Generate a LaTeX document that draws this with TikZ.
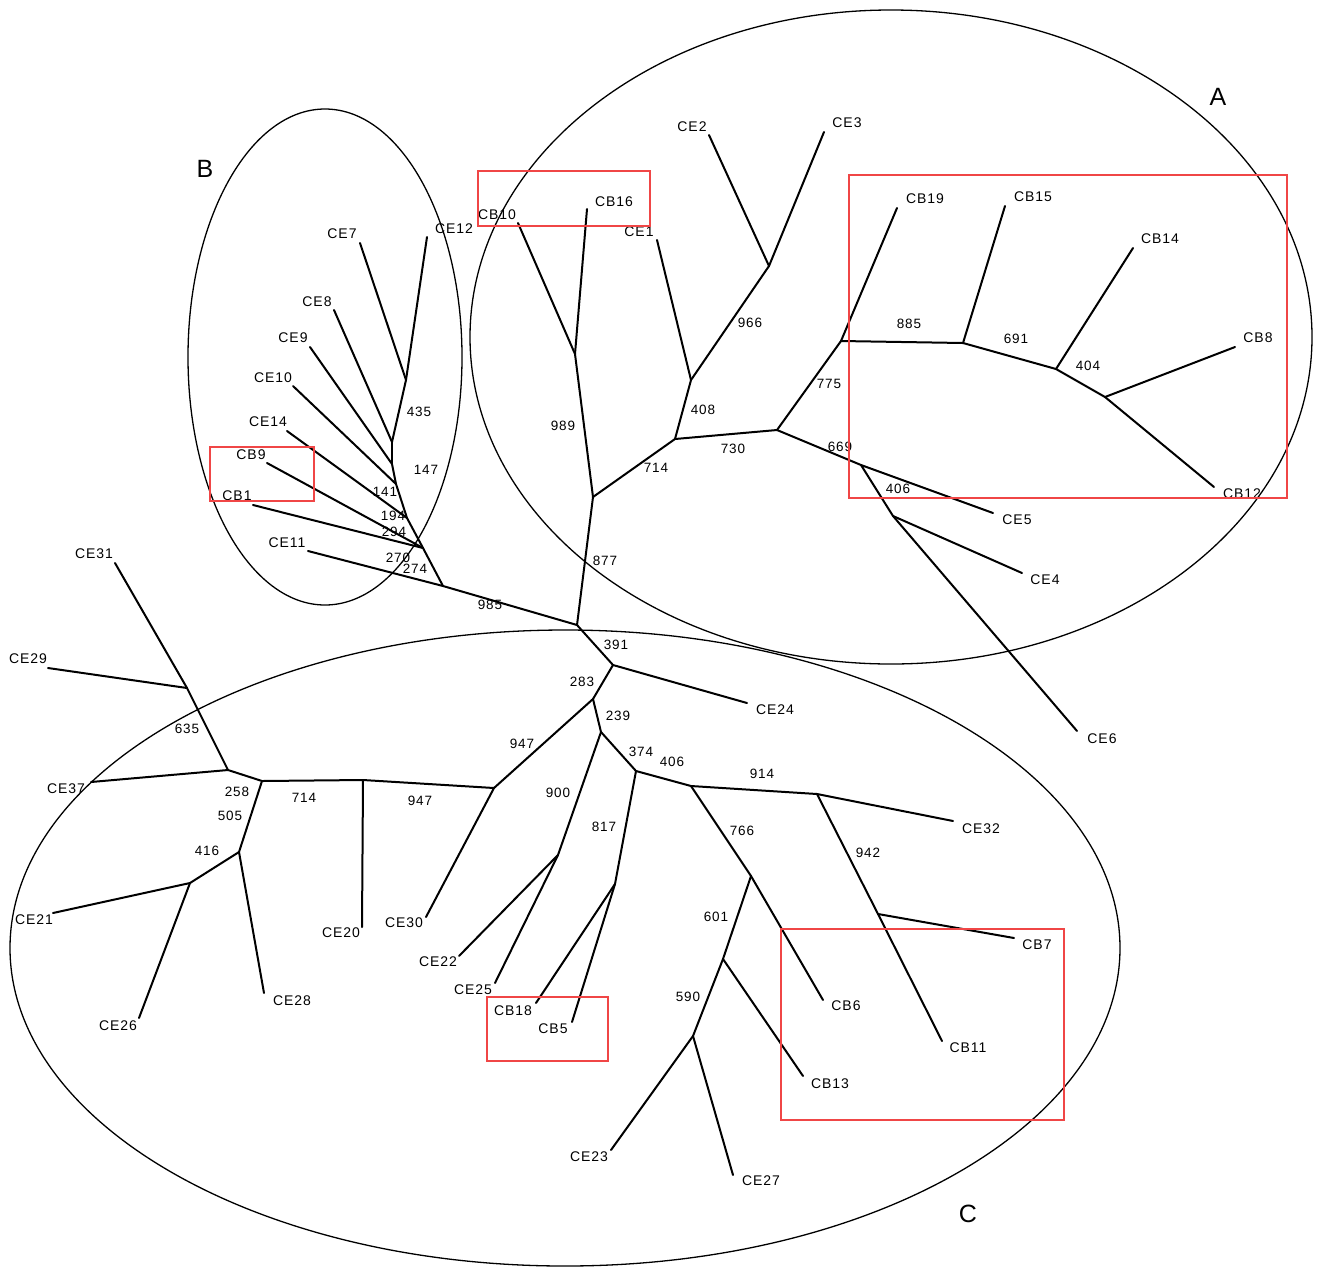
\documentclass[tikz,border=0pt]{standalone}
\usepackage{fontspec}
\setmainfont{Liberation Sans}[LetterSpace=7]
\definecolor{boxred}{RGB}{240,70,70}

\begin{document}
\begin{tikzpicture}[x=1pt,y=-1pt,
	br/.style={line width=2pt, line cap=round},
	grp/.style={line width=1.3pt},
	redbox/.style={draw=boxred, line width=1.6pt},
	lf/.style={font=\fontsize{14}{14}\selectfont, inner sep=0pt},
	bs/.style={font=\fontsize{13.5}{13.5}\selectfont, inner sep=0pt},
	big/.style={font=\fontsize{25}{25}\selectfont, inner sep=0pt}]
	\useasboundingbox (0,0) rectangle (1317,1270);

	% groups
	\draw[grp] (325,357) ellipse (137 and 248);
	\draw[grp] (891,337) ellipse (421 and 327);
	\draw[grp] (565,948) ellipse (555 and 318);
	\node[big] (gA) at (1218,97) {A};
	\node[big] (gB) at (205,169) {B};
	\node[big] (gC) at (968,1214) {C};

	% inner nodes
	\coordinate (r) at (577,625);
	\foreach \n/\x/\y in {b0/406/380, b1/392/442, b2/392/464, b3/396/484, b4/407/518, b5/423/548, b6/443/586,
		a877/593/497, acb/575/354, a714/675/439, a408/691/380, a966/769/266, a730/777/430, a775/841/341,
		a885/963/343, a691/1056/369, a404/1105/397, a669/861/465, a406/893/516,
		c391/613/665, c283/593/699, c239/601/732, c374/636/771, c406/691/786, c914/817/794, c942/878/914,
		c766/751/876, c601/723/959, c590/693/1036, c817/615/884, c900/558/855, c947/494/788, c20/363/780,
		c258/262/781, c635/228/770, c31/187/688, c416/239/852, c21/190/883}
		\coordinate (\n) at (\x,\y);

	% leaf ends
	\foreach \n/\x/\y in {ce7/360/243, ce12/427/237, ce8/334/310, ce9/310/347, ce10/293/386, ce14/287/431,
		cb9/267/463, cb1/253/505, ce11/308/551,
		cb10/518/223, cb16/587/209, ce1/657/240, ce2/709/135, ce3/824/132, cb19/897/208, cb15/1005/206,
		cb14/1133/248, cb8/1235/347, cb12/1214/487, ce5/993/513, ce4/1022/573, ce6/1077/731,
		ce24/747/703, ce32/953/821, cb7/1014/938, cb11/942/1041, cb6/823/1000, cb13/803/1076,
		ce23/611/1150, ce27/733/1175, cb18/536/1003, cb5/572/1022, ce25/495/983, ce22/459/956,
		ce30/426/917, ce20/362/927, ce28/264/993, ce26/139/1018, ce21/53/913, ce37/91/782,
		ce29/48/668, ce31/115/563}
		\coordinate (\n) at (\x,\y);

	% branches
	\foreach \a/\b in {r/b6, b6/ce11, b6/b5, b5/cb1, b5/cb9, b5/b4, b4/ce14, b4/b3, b3/ce10, b3/b2,
		b2/ce9, b2/b1, b1/ce8, b1/b0, b0/ce7, b0/ce12,
		r/a877, a877/acb, acb/cb10, acb/cb16, a877/a714, a714/a408, a408/ce1, a408/a966, a966/ce2,
		a966/ce3, a714/a730, a730/a775, a775/cb19, a775/a885, a885/cb15, a885/a691, a691/cb14,
		a691/a404, a404/cb8, a404/cb12, a730/a669, a669/ce5, a669/a406, a406/ce4, a406/ce6,
		r/c391, c391/ce24, c391/c283, c283/c947, c947/ce30, c947/c20, c20/ce20, c20/c258, c258/c635,
		c635/ce37, c635/c31, c31/ce29, c31/ce31, c258/c416, c416/ce28, c416/c21, c21/ce21, c21/ce26,
		c283/c239, c239/c900, c900/ce22, c900/ce25, c239/c374, c374/c817, c817/cb18, c817/cb5,
		c374/c406, c406/c914, c914/ce32, c914/c942, c942/cb7, c942/cb11, c406/c766, c766/cb6,
		c766/c601, c601/cb13, c601/c590, c590/ce23, c590/ce27}
		\draw[br] (\a) -- (\b);

	% leaf names
	\foreach \n/\x/\y in {CE7/342/234, CE12/454/229, CE8/317/302, CE9/293/338, CE10/273/378,
		CE14/268/422, CB9/251/455, CB1/237/496, CE11/287/543,
		CB10/497/215, CB16/614/202, CE1/639/232, CE2/692/127, CE3/847/123, CB19/925/199,
		CB15/1033/197, CB14/1160/239, CB8/1258/338, CB12/1242/494, CE5/1017/520, CE4/1045/580,
		CE6/1102/739,
		CE24/775/710, CE32/981/829, CB7/1037/945, CB11/968/1048, CB6/846/1006, CB13/830/1084,
		CE23/589/1157, CE27/761/1181, CB18/513/1011, CB5/553/1029, CE25/473/990, CE22/438/962,
		CE30/404/923, CE20/341/933, CE28/292/1001, CE26/118/1026, CE21/34/920, CE37/66/789,
		CE29/28/659, CE31/94/554}
		\node[lf] (\n) at (\x,\y) {\n};

	% bootstrap values
	\foreach \v/\x/\y [count=\i] in {435/419/412, 147/426/470, 141/385/492, 194/393/516, 294/394/532,
		270/398/558, 274/415/569, 985/490/605,
		989/563/426, 877/605/561, 714/656/468, 408/703/410, 966/750/323, 730/733/449, 775/829/384,
		669/840/447, 885/909/324, 691/1016/339, 404/1088/366, 406/898/489,
		391/616/645, 283/582/682, 239/618/716, 374/641/752, 406/672/762, 914/762/774, 942/868/853,
		766/742/831, 601/716/917, 590/688/997, 817/604/827, 900/558/793, 947/522/744, 947/420/801,
		714/304/798, 258/237/792, 505/230/816, 416/207/851, 635/187/729}
		\node[bs] (w\i) at (\x,\y) {\v};

	% marked isolates
	\draw[redbox] (210,447) rectangle (314,501);
	\draw[redbox] (478,171) rectangle (650,226);
	\draw[redbox] (849,175) rectangle (1287,498);
	\draw[redbox] (487,997) rectangle (608,1061);
	\draw[redbox] (781,929) rectangle (1064,1120);
\end{tikzpicture}
\end{document}
